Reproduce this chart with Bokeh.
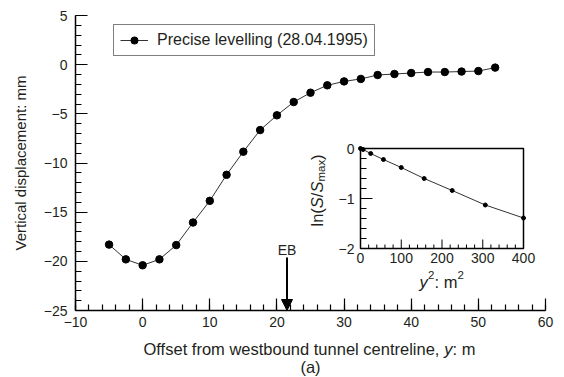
import math
from bokeh.plotting import figure
from bokeh.layouts import column
from bokeh.models import (Range1d, LinearAxis, FixedTicker, Legend, LegendItem,
                          Label, Arrow, NormalHead)
from bokeh.core.properties import value
from bokeh.embed import file_html
from bokeh.resources import INLINE

# ---------------- data ----------------
offset_m = [-5, -2.5, 0, 2.5, 5, 7.5, 10, 12.5, 15, 17.5, 20, 22.5, 25, 27.5,
            30, 32.5, 35, 37.5, 40, 42.5, 45, 47.5, 50, 52.5]
displacement_mm = [-18.3, -19.8, -20.4, -19.8, -18.35, -16.05, -13.85, -11.2,
                   -8.85, -6.65, -5.15, -3.8, -2.85, -2.1, -1.7, -1.45, -1.05,
                   -0.95, -0.85, -0.75, -0.75, -0.7, -0.65, -0.3]
y_squared = [0, 6.25, 25, 56.25, 100, 156.25, 225, 306.25, 400]
ln_ratio = [0, -0.02, -0.10, -0.22, -0.38, -0.60, -0.84, -1.13, -1.39]

x_ticks = [-10, 0, 10, 20, 30, 40, 50, 60]
x_tick_labels = ["\u221210", "0", "10", "20", "30", "40", "50", "60"]
y_ticks = [5, 0, -5, -10, -15, -20, -25]
y_tick_labels = ["5", "0", "\u22125", "\u221210", "\u221215", "\u221220", "\u221225"]
inset_x_ticks = [0, 100, 200, 300, 400]
inset_x_tick_labels = ["0", "100", "200", "300", "400"]
inset_y_ticks = [0, -1, -2]
inset_y_tick_labels = ["0", "\u22121", "\u22122"]
legend_label = "Precise levelling (28.04.1995)"
eb_offset = 21.5

# ---------------- layout constants (pixels) ----------------
W, H = 564, 377
H1 = 335                                    # height of the plot part
L, R, T, B = 75, 545, 15, 310
X0, X1, Y0, Y1 = 360, 523, 148, 248          # inset box in pixels
FONT = "Liberation Sans"
TXT = "#231f20"

XMIN, XMAX, YMIN, YMAX = -10, 60, -25, 5
IXMIN, IXMAX, IYMIN, IYMAX = 0, 400, -2, 0


def my(py):
    return YMAX - (py - T) / (B - T) * (YMAX - YMIN)


kx = (IXMAX - IXMIN) / (X1 - X0)
ky = (IYMAX - IYMIN) / (Y1 - Y0)


def ix(px):
    return IXMIN + (px - X0) * kx


def iy(py):
    return IYMAX - (py - Y0) * ky


p = figure(width=W, height=H1, output_backend="svg", toolbar_location=None,
           x_range=Range1d(XMIN, XMAX), y_range=Range1d(YMIN, YMAX),
           x_axis_type=None, y_axis_type=None,
           min_border_left=L, min_border_right=W - R,
           min_border_top=T, min_border_bottom=H1 - B)
p.outline_line_color = None
p.background_fill_color = "white"
p.border_fill_color = "white"

# ---------------- main axes ----------------
xaxis = LinearAxis(ticker=FixedTicker(ticks=x_ticks,
                                      minor_ticks=list(range(-10, 61, 2))))
xaxis.major_label_overrides = {t: s for t, s in zip(x_ticks, x_tick_labels)}
yaxis = LinearAxis(ticker=FixedTicker(ticks=y_ticks,
                                      minor_ticks=list(range(-25, 6, 1))))
yaxis.major_label_overrides = {t: s for t, s in zip(y_ticks, y_tick_labels)}
for ax in (xaxis, yaxis):
    ax.axis_line_color = "black"
    ax.axis_line_width = 1.5
    ax.major_tick_in = 12
    ax.major_tick_out = 0
    ax.minor_tick_in = 6
    ax.minor_tick_out = 0
    ax.major_tick_line_width = 1.2
    ax.minor_tick_line_width = 1.2
    ax.major_label_text_font = FONT
    ax.major_label_text_font_size = "14px"
    ax.major_label_text_color = TXT
xaxis.major_label_standoff = 6
yaxis.major_label_standoff = 8
yaxis.axis_label = "Vertical displacement: mm"
yaxis.axis_label_text_font = FONT
yaxis.axis_label_text_font_size = "15px"
yaxis.axis_label_text_font_style = "normal"
yaxis.axis_label_text_color = TXT
yaxis.axis_label_standoff = 12
p.add_layout(xaxis, "below")
p.add_layout(yaxis, "left")

# ---------------- main series ----------------
ln_r = p.line(offset_m, displacement_mm, line_color="#333333", line_width=1)
sc_r = p.scatter(offset_m, displacement_mm, size=7.5, fill_color="black",
                 line_color="black")

legend = Legend(items=[LegendItem(label=legend_label, renderers=[ln_r, sc_r])],
                location=(38, 254), margin=0, padding=6,
                border_line_color="black", border_line_width=1.5,
                label_standoff=9, glyph_width=28, glyph_height=18,
                label_height=18, label_text_font=FONT,
                label_text_font_size="16px", label_text_color=TXT,
                background_fill_alpha=1)
p.add_layout(legend)

# EB arrow
p.add_layout(Arrow(end=NormalHead(size=11, fill_color="black",
                                  line_color="black", line_width=1),
                   x_start=eb_offset, y_start=my(257), x_end=eb_offset,
                   y_end=YMIN, line_color="black", line_width=2))
p.add_layout(Label(x=eb_offset, y=my(249), text="EB", text_align="center",
                   text_baseline="alphabetic", text_font=FONT,
                   text_font_size="14px", text_color=TXT))

# ---------------- inset ----------------
p.extra_x_ranges = {"ix": Range1d(ix(L), ix(R))}
p.extra_y_ranges = {"iy": Range1d(iy(B), iy(T))}
ins = dict(x_range_name="ix", y_range_name="iy")

p.quad(left=[IXMIN], right=[IXMAX], bottom=[IYMIN], top=[IYMAX],
       fill_color="white", line_color="black", line_width=1.5, **ins)

minor_ix = [v for v in range(0, 401, 20) if v not in inset_x_ticks]
minor_iy = [v / 10 for v in range(-20, 1, 2) if v % 10 != 0]
p.ray(x=minor_ix, y=[IYMIN] * len(minor_ix), length=4, length_units="screen",
      angle=math.pi / 2, line_color="black", line_width=1, **ins)
p.ray(x=inset_x_ticks, y=[IYMIN] * len(inset_x_ticks), length=9,
      length_units="screen", angle=math.pi / 2, line_color="black",
      line_width=1, **ins)
p.ray(x=[IXMIN] * len(minor_iy), y=minor_iy, length=6, length_units="screen",
      angle=0, line_color="black", line_width=1, **ins)
p.ray(x=[IXMIN] * len(inset_y_ticks), y=inset_y_ticks, length=12,
      length_units="screen", angle=0, line_color="black", line_width=1, **ins)

p.line(y_squared, ln_ratio, line_color="#333333", line_width=1, **ins)
p.scatter(y_squared, ln_ratio, size=4, fill_color="black", line_color="black",
          **ins)

tk = dict(text_font=value(FONT), text_font_size="14px", text_color=TXT)
p.text(x=inset_x_ticks, y=[iy(252)] * len(inset_x_ticks),
       text=inset_x_tick_labels, text_align="center", text_baseline="top",
       **tk, **ins)
p.text(x=[ix(354)] * len(inset_y_ticks), y=inset_y_ticks,
       text=inset_y_tick_labels, text_align="right", text_baseline="middle",
       **tk, **ins)

# inset x label: y^2: m^2
big = dict(text_font=value(FONT), text_font_size="16.5px", text_color=TXT,
           text_align="left", text_baseline="alphabetic")
small = dict(text_font=value(FONT), text_font_size="11.5px", text_color=TXT,
             text_align="left", text_baseline="alphabetic")
xb = 419.0
p.text(x=[ix(xb)], y=[iy(281.5)], text=["y"], text_font_style="italic",
       **big, **ins)
p.text(x=[ix(xb + 8.6)], y=[iy(274.5)], text=["2"], **small, **ins)
p.text(x=[ix(xb + 15.0)], y=[iy(281.5)], text=[": m"], **big, **ins)
p.text(x=[ix(xb + 37.9)], y=[iy(274.5)], text=["2"], **small, **ins)

# inset y label: ln(S/Smax), rotated
yb = 226.0
bx = 316.0
rot = dict(angle=math.pi / 2, **ins)
p.text(x=[ix(bx)], y=[iy(yb)], text=["ln("], **big, **rot)
p.text(x=[ix(bx)], y=[iy(yb - 18.3)], text=["S"], text_font_style="italic",
       **big, **rot)
p.text(x=[ix(bx)], y=[iy(yb - 29.3)], text=["/"], **big, **rot)
p.text(x=[ix(bx)], y=[iy(yb - 33.9)], text=["S"], text_font_style="italic",
       **big, **rot)
p.text(x=[ix(bx + 4)], y=[iy(yb - 44.9)], text=["max"], **small, **rot)
p.text(x=[ix(bx)], y=[iy(yb - 66.6)], text=[")"], **big, **rot)

# ---------------- caption strip (x-axis title and "(a)") ----------------
H2 = H - H1
q = figure(width=W, height=H2, output_backend="svg", toolbar_location=None,
           x_range=Range1d(L, R), y_range=Range1d(0, H2),
           x_axis_type=None, y_axis_type=None,
           min_border_left=L, min_border_right=W - R, min_border_top=0,
           min_border_bottom=0)
q.outline_line_color = None
q.background_fill_color = "white"
q.border_fill_color = "white"


def qy(py):
    return H - py


cap = dict(text_font=value(FONT), text_font_size="16.5px", text_color=TXT,
           text_baseline="alphabetic")
q.text(x=[143], y=[qy(348)], text=["Offset from westbound tunnel centreline,"],
       text_align="left", **cap)
q.text(x=[443.8], y=[qy(348)], text=["y"], text_align="left",
       text_font_style="italic", **cap)
q.text(x=[452.1], y=[qy(348)], text=[": m"], text_align="left", **cap)
q.text(x=[310], y=[qy(366)], text=["(a)"], text_align="center", **cap)

layout = column(p, q, spacing=0)
open("out.html", "w").write(file_html(layout, INLINE))
